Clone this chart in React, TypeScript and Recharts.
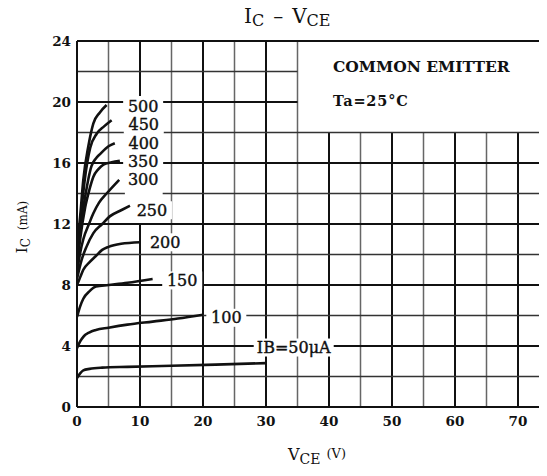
import { ComposedChart, Line, Scatter, XAxis, YAxis, ReferenceLine } from 'recharts';

// tick labels
const vceTicks = [0, 10, 20, 30, 40, 50, 60, 70];
const icTicks = [0, 4, 8, 12, 16, 20, 24];
const gridV = [5, 10, 15, 20, 25, 30, 35, 40, 45, 50, 55, 60, 65, 70];
const gridI = [2, 4, 6, 8, 10, 12, 14, 16, 18, 20, 22, 24];

// IC (mA) vs VCE (V), one array per base current
const ib50 = [
  { v: 0, ic: 1.9 }, { v: 0.5, ic: 2.2 }, { v: 1, ic: 2.4 }, { v: 2, ic: 2.5 }, { v: 4, ic: 2.58 },
  { v: 8, ic: 2.63 }, { v: 15, ic: 2.7 }, { v: 22, ic: 2.78 }, { v: 30, ic: 2.88 },
];
const ib100 = [
  { v: 0, ic: 3.85 }, { v: 0.5, ic: 4.3 }, { v: 1, ic: 4.6 }, { v: 2, ic: 4.9 }, { v: 3, ic: 5.05 },
  { v: 5, ic: 5.2 }, { v: 8, ic: 5.4 }, { v: 12, ic: 5.6 }, { v: 16, ic: 5.8 }, { v: 20, ic: 6.05 },
];
const ib150 = [
  { v: 0, ic: 5.9 }, { v: 0.5, ic: 6.6 }, { v: 1, ic: 7.1 }, { v: 2, ic: 7.6 }, { v: 3, ic: 7.9 },
  { v: 5, ic: 8.0 }, { v: 8, ic: 8.15 }, { v: 12, ic: 8.4 },
];
const ib200 = [
  { v: 0, ic: 8.0 }, { v: 0.5, ic: 8.5 }, { v: 1, ic: 9.0 }, { v: 2, ic: 9.5 }, { v: 3, ic: 9.9 },
  { v: 4, ic: 10.3 }, { v: 5, ic: 10.5 }, { v: 7, ic: 10.7 }, { v: 10, ic: 10.8 },
];
const ib250 = [
  { v: 0, ic: 8.4 }, { v: 0.7, ic: 9.6 }, { v: 1.5, ic: 10.5 }, { v: 2.6, ic: 11.4 }, { v: 4, ic: 12.0 },
  { v: 5.2, ic: 12.5 }, { v: 7, ic: 12.9 }, { v: 8.4, ic: 13.2 },
];
const ib300 = [
  { v: 0, ic: 8.8 }, { v: 0.5, ic: 10.1 }, { v: 1, ic: 11.0 }, { v: 2, ic: 12.1 }, { v: 2.6, ic: 12.7 },
  { v: 3.5, ic: 13.4 }, { v: 4.7, ic: 14.0 }, { v: 6.7, ic: 14.9 },
];
const ib350 = [
  { v: 0, ic: 9.2 }, { v: 0.5, ic: 11.0 }, { v: 1.3, ic: 13.1 }, { v: 2, ic: 14.3 }, { v: 2.6, ic: 15.1 },
  { v: 3.4, ic: 15.6 }, { v: 4.2, ic: 15.9 }, { v: 5.5, ic: 16.05 }, { v: 6.8, ic: 16.15 },
];
const ib400 = [
  { v: 0, ic: 9.5 }, { v: 0.5, ic: 11.5 }, { v: 1.3, ic: 13.8 }, { v: 2.3, ic: 15.8 }, { v: 3, ic: 16.3 },
  { v: 3.7, ic: 16.6 }, { v: 5, ic: 17.1 }, { v: 6, ic: 17.3 },
];
const ib450 = [
  { v: 0, ic: 10.0 }, { v: 0.5, ic: 12.0 }, { v: 1.2, ic: 14.8 }, { v: 2.1, ic: 17.0 }, { v: 3.1, ic: 17.9 },
  { v: 4.3, ic: 18.4 }, { v: 5.5, ic: 18.8 },
];
const ib500 = [
  { v: 0, ic: 10.5 }, { v: 0.5, ic: 12.5 }, { v: 1, ic: 14.9 }, { v: 1.8, ic: 17.1 }, { v: 2.6, ic: 18.6 },
  { v: 3.6, ic: 19.3 }, { v: 4.7, ic: 19.8 },
];
const curves = [ib50, ib100, ib150, ib200, ib250, ib300, ib350, ib400, ib450, ib500];

const curveLabels = [
  { v: 10.5, ic: 19.7, text: '500' },
  { v: 10.6, ic: 18.5, text: '450' },
  { v: 10.6, ic: 17.3, text: '400' },
  { v: 10.5, ic: 16.1, text: '350' },
  { v: 10.5, ic: 14.9, text: '300' },
  { v: 11.9, ic: 12.9, text: '250' },
  { v: 14.0, ic: 10.8, text: '200' },
  { v: 16.7, ic: 8.3, text: '150' },
  { v: 23.7, ic: 5.85, text: '100' },
  { v: 34.4, ic: 3.9, text: 'IB=50μA' },
];

const FONT = '"DejaVu Serif", "Liberation Serif", serif';
const INK = '#111';

// areas where the printed grid is left blank (note box, label column)
const blanks = [
  { x1: 35, x2: 75, y1: 18, y2: 24 },
  { x1: 7.6, x2: 13.6, y1: 12, y2: 20.4 },
];

function freeSpans(lo: number, hi: number, cuts: number[][]) {
  let spans = [[lo, hi]];
  for (const [a, b] of cuts) {
    spans = spans.flatMap(([s, e]) => {
      if (b <= s || a >= e) return [[s, e]];
      const out: number[][] = [];
      if (a > s) out.push([s, a]);
      if (b < e) out.push([b, e]);
      return out;
    });
  }
  return spans;
}

const LabelShape = (props: any) => {
  const { cx, cy, payload } = props;
  const w = payload.text.length * 10 + 10;
  return (
    <g>
      <rect x={cx - w / 2} y={cy - 9} width={w} height={18} fill="#fff" />
      <text x={cx} y={cy} textAnchor="middle" dominantBaseline="central" fill={INK}
        stroke={INK} strokeWidth={0.4}
        style={{ fontFamily: FONT, fontSize: 16 }}>
        {payload.text}
      </text>
    </g>
  );
};

export default function App() {
  const gridLines: JSX.Element[] = [];
  gridV.forEach((x) => {
    const cuts = blanks.filter((b) => b.x1 < x && x < b.x2).map((b) => [b.y1, b.y2]);
    const major = x % 10 === 0;
    freeSpans(0, 24, cuts).forEach(([a, b], i) =>
      gridLines.push(
        <ReferenceLine key={`v${x}-${i}`} segment={[{ x, y: a }, { x, y: b }]}
          stroke={major ? INK : '#666'} strokeWidth={major ? 2 : 1.5} />
      )
    );
  });
  gridI.forEach((y) => {
    const cuts = blanks.filter((b) => b.y1 < y && y < b.y2).map((b) => [b.x1, b.x2]);
    const major = y % 4 === 0;
    freeSpans(0, 75, cuts).forEach(([a, b], i) =>
      gridLines.push(
        <ReferenceLine key={`h${y}-${i}`} segment={[{ x: a, y }, { x: b, y }]}
          stroke={major ? INK : '#333'} strokeWidth={major ? 2 : 1.6} />
      )
    );
  });

  return (
    <div style={{ position: 'relative', width: 547, height: 476, margin: '-8px 0 0 -8px', overflow: 'hidden', background: '#fff', color: INK, fontFamily: FONT }}>
      <div style={{ position: 'absolute', left: 244, top: 4, fontSize: 20, whiteSpace: 'nowrap' }}>
        I<span style={{ fontSize: 16, position: 'relative', top: 3 }}>C</span>
        <span style={{ margin: '0 9px' }}>–</span>V<span style={{ fontSize: 16, position: 'relative', top: 3 }}>CE</span>
      </div>

      <ComposedChart width={560} height={476} margin={{ top: 41, right: 10.5, bottom: 39, left: 17 }}
        style={{ position: 'absolute', left: 0, top: 0 }}>
        <XAxis dataKey="v" type="number" domain={[0, 75]} ticks={vceTicks} allowDataOverflow
          height={30} tickSize={0} tickMargin={9} tickLine={false}
          axisLine={{ stroke: INK, strokeWidth: 2 }}
          tick={{ fill: INK, fontSize: 13.5, fontFamily: FONT, fontWeight: 'bold' }} />
        <YAxis type="number" domain={[0, 24]} ticks={icTicks} allowDataOverflow
          width={60} tickSize={0} tickMargin={6} tickLine={false}
          axisLine={{ stroke: INK, strokeWidth: 2 }}
          tick={{ fill: INK, fontSize: 13.5, fontFamily: FONT, fontWeight: 'bold' }} />
        {gridLines}
        {curves.map((data, i) => (
          <Line key={i} data={data} dataKey="ic" type="monotone" stroke={INK} strokeWidth={2.6}
            dot={false} activeDot={false} isAnimationActive={false} />
        ))}
        <Scatter data={curveLabels} dataKey="ic" shape={LabelShape} isAnimationActive={false} />
      </ComposedChart>

      <div style={{ position: 'absolute', left: 333, top: 57, fontSize: 15.5, fontWeight: 'bold', whiteSpace: 'nowrap' }}>
        COMMON EMITTER
      </div>
      <div style={{ position: 'absolute', left: 333, top: 92, fontSize: 14.5, fontWeight: 'bold', whiteSpace: 'nowrap', letterSpacing: 0.8 }}>
        Ta=25°C
      </div>

      <div style={{ position: 'absolute', left: 22, top: 227, transform: 'translate(-50%, -50%) rotate(-90deg)', whiteSpace: 'nowrap', fontSize: 15 }}>
        I<span style={{ fontSize: 12, position: 'relative', top: 3 }}>C</span>
        <span style={{ fontSize: 12, marginLeft: 8 }}>(mA)</span>
      </div>

      <div style={{ position: 'absolute', left: 288, top: 445, whiteSpace: 'nowrap', fontSize: 16 }}>
        V<span style={{ fontSize: 14, position: 'relative', top: 4 }}>CE</span>
        <span style={{ fontSize: 13, marginLeft: 6, position: 'relative', top: -2 }}>(V)</span>
      </div>
    </div>
  );
}
